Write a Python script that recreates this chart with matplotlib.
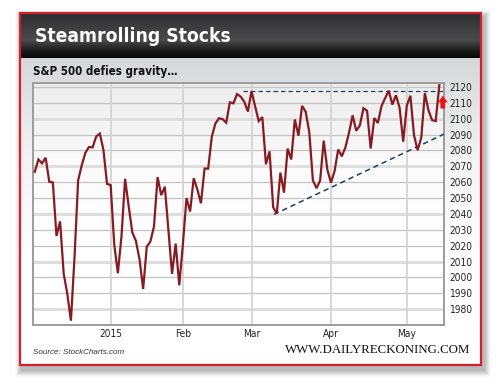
import numpy as np
import pandas as pd
import matplotlib
matplotlib.use("Agg")
import matplotlib.pyplot as plt
from matplotlib.patches import Rectangle, Polygon
from matplotlib.colors import LinearSegmentedColormap

# ---------------- data ----------------
holidays = ["2014-12-25", "2015-01-01", "2015-01-19", "2015-02-16", "2015-04-03"]
dates = [d for d in pd.bdate_range("2014-12-02", "2015-05-14") if d.strftime("%Y-%m-%d") not in holidays]

closes = [
    2066.6, 2074.3, 2071.9, 2075.4, 2060.3, 2059.8, 2026.1, 2035.3, 2002.3, 1989.6,
    1972.7, 2012.9, 2061.2, 2070.7, 2078.5, 2082.2, 2081.9, 2088.8, 2090.6, 2080.4,
    2058.9,
    2058.2, 2020.6, 2002.6, 2025.9, 2062.1, 2044.8, 2028.3, 2023.0, 2011.3, 1992.7,
    2019.4, 2022.6, 2032.1, 2063.2, 2051.8, 2057.1, 2029.6, 2002.2, 2021.3, 1995.0,
    2020.9, 2050.0, 2041.5, 2062.5, 2055.5, 2046.7, 2068.6, 2068.5, 2088.5, 2097.0,
    2100.3, 2099.7, 2097.5, 2110.3, 2109.7, 2115.5, 2113.9, 2110.7, 2104.5,
    2117.4, 2107.8, 2098.5, 2101.0, 2071.3, 2079.4, 2044.2, 2040.2, 2066.0, 2053.4,
    2081.2, 2074.3, 2099.5, 2089.3, 2108.1, 2104.4, 2091.5, 2061.1, 2056.2, 2061.0,
    2086.2, 2067.9,
    2059.7, 2067.0, 2080.6, 2076.3, 2081.9, 2091.2, 2102.1, 2092.4, 2095.8, 2106.6,
    2105.0, 2081.2, 2100.4, 2097.3, 2108.0, 2112.9, 2117.7, 2108.9, 2114.8, 2106.9,
    2085.5,
    2108.3, 2114.5, 2089.5, 2080.2, 2088.0, 2116.1, 2105.3, 2099.1, 2098.5, 2121.1,
]

tick_dates = ["2015-01-02", "2015-02-02", "2015-03-02", "2015-04-01", "2015-05-01"]
tick_labels = ["2015", "Feb", "Mar", "Apr", "May"]
y_ticks = list(range(1980, 2121, 10))

resistance_level = 2117.4
support_start = ("2015-03-11", 2039.7)
support_end_value = 2090.3

title = "Steamrolling Stocks"
subtitle = "S&P 500 defies gravity\u2026"
source = "Source: StockCharts.com"
site = "WWW.DAILYRECKONING.COM"

NARROW = ["Liberation Sans Narrow", "DejaVu Sans"]

# ---------------- figure ----------------
W, H = 500, 385
fig = plt.figure(figsize=(W / 100, H / 100), dpi=100)
fig.patch.set_facecolor("white")

bg = fig.add_axes([0, 0, 1, 1])
bg.set_xlim(0, W)
bg.set_ylim(H, 0)
bg.axis("off")

# shadow
for i, a in enumerate([0.05, 0.05, 0.05, 0.05, 0.04, 0.03, 0.02]):
    s = i + 1
    bg.add_patch(Rectangle((19 - s + 3, 12 - s + 5), 462 + 2 * s, 353 + 2 * s,
                           facecolor="black", edgecolor="none", alpha=a, zorder=0))

# card body gradient
body_cmap = LinearSegmentedColormap.from_list("body", ["#d6d7d9", "#f4f4f4", "#ffffff", "#ffffff"])
grad = np.linspace(0, 1, 256).reshape(-1, 1)
bg.imshow(grad, extent=(20, 480, 365, 58), origin="upper", cmap=body_cmap, aspect="auto", zorder=1)

# header gradient
head_cmap = LinearSegmentedColormap.from_list(
    "head", [(0, "#2e2e2f"), (0.25, "#3a3a3c"), (0.6, "#4b4b4d"), (0.82, "#1e1e1e"), (1.0, "#050505")])
bg.imshow(grad, extent=(20, 480, 58, 13), origin="upper", cmap=head_cmap, aspect="auto", zorder=2)

# red border
bg.add_patch(Rectangle((19.5, 12.5), 461, 352.5, facecolor="none", edgecolor="#d3202a", lw=1.6, zorder=5))

# plot-area gradient
plot_cmap = LinearSegmentedColormap.from_list("plot", ["#ececec", "#fbfbfb", "#ffffff", "#ffffff"])
bg.imshow(grad, extent=(33, 444, 325, 83), origin="upper", cmap=plot_cmap, aspect="auto", zorder=2)

bg.text(35, 37, title, color="white", fontsize=13.8, fontweight="bold", fontstretch="condensed",
        family=NARROW, va="center", ha="left", zorder=6)
bg.text(33, 72, subtitle, color="#111111", fontsize=8.3, fontweight="bold", fontstretch="condensed",
        family=NARROW, va="center", ha="left", zorder=6)
bg.text(33, 352, source, color="#333333", fontsize=5.8, style="italic",
        family=["Liberation Sans", "DejaVu Sans"], va="center", ha="left", zorder=6)
bg.text(470, 350, site, color="#111111", fontsize=9.3,
        family=["Liberation Serif", "DejaVu Serif"], va="center", ha="right", zorder=6)

# ---------------- chart ----------------
ax = fig.add_axes([33 / W, 1 - 325 / H, (444 - 33) / W, (325 - 83) / H])
ax.set_facecolor("none")
ax.set_zorder(3)

x = np.arange(len(dates))
date_str = [d.strftime("%Y-%m-%d") for d in dates]
tick_pos = [date_str.index(t) for t in tick_dates]

ax.set_xlim(-0.5, 113.3)
ax.set_ylim(1970.0, 2122.5)

for v in y_ticks:
    heavy = (v - 2070) % 30 == 0
    ax.axhline(v, color="#dcdcdc" if heavy else "#c4c4c4", lw=2.0 if heavy else 0.9, zorder=1)
for p in tick_pos:
    ax.axvline(p, color="#d4d4d4", lw=1.3, zorder=1)

ax.plot(x, closes, color="#861b22", lw=1.6, zorder=4, solid_joinstyle="miter")

# resistance line
ax.plot([57.6, 113.3], [resistance_level, resistance_level], color="#1d3f5e",
        lw=0.9, ls=(0, (3.5, 2.5)), zorder=3)
# rising support line
sx = date_str.index(support_start[0]) - 0.8
ax.plot([sx, 113.3], [support_start[1], support_end_value], color="#1d3f5e",
        lw=1.1, ls=(0, (3.5, 2.5)), zorder=3)

# red up arrow (drawn in pixel coordinates of the background layer)
arrow_pts = [(442.8, 95.8), (447.8, 102.4), (445.2, 102.4), (445.2, 108.5),
             (440.4, 108.5), (440.4, 102.4), (437.8, 102.4)]
ax.add_patch(Polygon(arrow_pts, closed=True, facecolor="#e8141c", edgecolor="none",
                     transform=bg.transData, clip_on=False, zorder=6))

ax.set_xticks(tick_pos)
ax.set_xticklabels(tick_labels)
ax.set_yticks(y_ticks)
ax.yaxis.tick_right()
ax.tick_params(axis="both", length=0, labelsize=7.3, colors="#222222")
ax.tick_params(axis="y", pad=4)
ax.tick_params(axis="x", pad=3)
for lab in ax.get_xticklabels() + ax.get_yticklabels():
    lab.set_family(NARROW)
    lab.set_fontstretch("condensed")
ax.grid(False)
for sp in ax.spines.values():
    sp.set_color("#9c9c9c")
    sp.set_linewidth(1.4)

fig.savefig("out.png", dpi=100)
